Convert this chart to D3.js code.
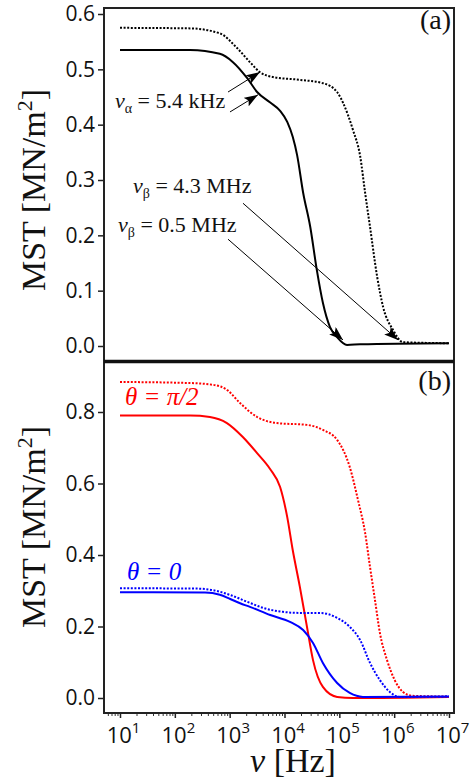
<!DOCTYPE html>
<html><head><meta charset="utf-8">
<script src="https://cdn.jsdelivr.net/npm/d3@7"></script>
<style>body{margin:0;background:#fff} .serif{font-family:"Liberation Serif","Times New Roman",Times,serif}</style>
</head><body><svg id="c" width="475" height="780"></svg>
<script>
// ---------- data ----------
const decades = [1, 2, 3, 4, 5, 6, 7];
const yTicksA = [0, 0.1, 0.2, 0.3, 0.4, 0.5, 0.6];
const yTicksB = [0, 0.2, 0.4, 0.6, 0.8];

// panel (a): log10(frequency / Hz) and MST [MN/m^2]
const aSolidLogF = [1.0, 2.28, 2.82, 3.06, 3.32, 3.50, 3.74, 3.92, 4.05, 4.15, 4.23, 4.34, 4.47, 4.59, 4.70, 4.83, 4.96, 5.14, 5.38, 7.0];
const aSolidMST  = [0.535, 0.535, 0.528, 0.513, 0.484, 0.459, 0.440, 0.425, 0.405, 0.378, 0.345, 0.277, 0.215, 0.137, 0.078, 0.034, 0.016, 0.002, 0.003, 0.005];
const aDotLogF   = [1.0, 2.28, 2.82, 3.13, 3.37, 3.55, 3.79, 4.28, 4.70, 4.96, 5.07, 5.25, 5.38, 5.47, 5.56, 5.69, 5.80, 5.98, 6.16, 7.0];
const aDotMST    = [0.575, 0.574, 0.565, 0.539, 0.513, 0.495, 0.486, 0.481, 0.475, 0.459, 0.439, 0.390, 0.343, 0.277, 0.215, 0.125, 0.070, 0.029, 0.007, 0.005];

// panel (b)
const redSolidLogF = [1.0, 2.28, 2.64, 2.95, 3.24, 3.50, 3.74, 3.92, 4.05, 4.15, 4.28, 4.41, 4.52, 4.70, 4.96, 5.25, 7.0];
const redSolidMST  = [0.790, 0.790, 0.786, 0.769, 0.730, 0.685, 0.640, 0.590, 0.506, 0.414, 0.311, 0.199, 0.106, 0.031, 0.003, 0.0, 0.003];
const redDotLogF   = [1.0, 2.28, 2.70, 2.95, 3.19, 3.50, 3.86, 4.41, 4.70, 4.96, 5.19, 5.34, 5.47, 5.56, 5.65, 5.74, 5.87, 6.01, 6.16, 6.34, 7.0];
const redDotMST    = [0.884, 0.881, 0.876, 0.862, 0.825, 0.786, 0.769, 0.764, 0.750, 0.722, 0.646, 0.554, 0.462, 0.366, 0.274, 0.182, 0.106, 0.050, 0.017, 0.006, 0.004];
const blueSolidLogF = [1.0, 2.55, 2.82, 3.01, 3.19, 3.37, 3.74, 4.10, 4.34, 4.52, 4.70, 4.96, 5.19, 5.43, 7.0];
const blueSolidMST  = [0.296, 0.295, 0.289, 0.277, 0.265, 0.255, 0.232, 0.213, 0.190, 0.154, 0.098, 0.042, 0.014, 0.003, 0.004];
const blueDotLogF   = [1.0, 2.40, 2.75, 3.01, 3.37, 3.61, 3.97, 4.28, 4.65, 4.96, 5.19, 5.38, 5.56, 5.74, 5.92, 6.10, 7.0];
const blueDotMST    = [0.307, 0.306, 0.300, 0.288, 0.266, 0.252, 0.241, 0.238, 0.238, 0.224, 0.199, 0.162, 0.098, 0.050, 0.017, 0.003, 0.004];

// annotations panel (a): [startLogF, startMST, tipLogF, tipMST]
const arrowsA = [
  [2.97, 0.459, 3.553, 0.495],
  [3.006, 0.423, 3.517, 0.454],
  [3.243, 0.258, 6.07, 0.011],
  [2.97, 0.193, 5.067, 0.011]
];
const labelsA = [
  {sym: "ν", sub: "α", rest: " = 5.4 kHz", lf: 0.909, v: 0.430},
  {sym: "ν", sub: "β", rest: " = 4.3 MHz", lf: 1.237, v: 0.2765},
  {sym: "ν", sub: "β", rest: " = 0.5 MHz", lf: 0.964, v: 0.206}
];
const labelsB = [
  {text: "θ = π/2", color: "#ff0000", lf: 1.091, v: 0.82},
  {text: "θ = 0", color: "#0000ff", lf: 1.128, v: 0.33}
];

// ---------- layout ----------
const L = 104, R = 454, TA = 8, MID = 361.5, BB = 713;
const svg = d3.select("#c");
const x = d3.scaleLog().domain([10, 1e7]).range([120, 449]);
const yA = d3.scaleLinear().domain([0, 0.6]).range([346, 14]);
const yB = d3.scaleLinear().domain([0, 0.8]).range([698, 412]);

const defs = svg.append("defs");
defs.append("marker").attr("id", "ah").attr("viewBox", "0 0 14 10")
  .attr("refX", 14).attr("refY", 5).attr("markerWidth", 14).attr("markerHeight", 10)
  .attr("markerUnits", "userSpaceOnUse").attr("orient", "auto")
  .append("path").attr("d", "M0,0 L14,5 L0,10 L3,5 Z").attr("fill", "#000");

function yAxis(scale, ticks) {
  const g = svg.append("g").attr("transform", `translate(${L},0)`)
    .call(d3.axisLeft(scale).tickValues(ticks).tickFormat(d3.format(".1f")).tickSize(6).tickPadding(3));
  g.select(".domain").remove();
  g.selectAll(".tick line").attr("stroke", "#222").attr("stroke-width", 1.5);
  g.selectAll(".tick text").attr("font-family", "'Open Sans', sans-serif").attr("font-size", 21).attr("fill", "#111");
}
yAxis(yA, yTicksA);
yAxis(yB, yTicksB);

// x axis (bottom)
const minor = [];
decades.forEach(d => { if (d < 7) for (let k = 2; k <= 9; k++) minor.push(k * Math.pow(10, d)); });
for (let k = 6; k <= 9; k++) minor.push(k);
const gxm = svg.append("g").attr("transform", `translate(0,${BB})`)
  .call(d3.axisBottom(x).tickValues(minor.filter(v => x(v) >= L)).tickSize(3).tickFormat(""));
gxm.select(".domain").remove();
gxm.selectAll(".tick line").attr("stroke", "#333").attr("stroke-width", 1);
const gx = svg.append("g").attr("transform", `translate(0,${BB})`)
  .call(d3.axisBottom(x).tickValues(decades.map(d => Math.pow(10, d))).tickSize(5).tickFormat(""));
gx.select(".domain").remove();
gx.selectAll(".tick line").attr("stroke", "#222").attr("stroke-width", 1.5);
gx.selectAll(".tick").each(function(d, i) {
  const t = d3.select(this).append("text").attr("y", 30).attr("x", 3).attr("text-anchor", "middle")
    .attr("font-family", "'Open Sans', sans-serif").attr("font-size", 22).attr("fill", "#111");
  t.append("tspan").text("10");
  t.append("tspan").attr("dy", -10).attr("font-size", 15).text(decades[i]);
});

// lines
const line = (sc) => d3.line().x(d => x(Math.pow(10, d[0]))).y(d => sc(d[1])).curve(d3.curveMonotoneX);
function series(lf, v, sc, color, dotted) {
  svg.append("path").datum(lf.map((f, i) => [f, v[i]]))
    .attr("d", line(sc)).attr("fill", "none").attr("stroke", color)
    .attr("stroke-width", 2).attr("stroke-dasharray", dotted ? "2,1.6" : null);
}
series(aDotLogF, aDotMST, yA, "#000", true);
series(aSolidLogF, aSolidMST, yA, "#000", false);
series(redDotLogF, redDotMST, yB, "#ff0000", true);
series(redSolidLogF, redSolidMST, yB, "#ff0000", false);
series(blueDotLogF, blueDotMST, yB, "#0000ff", true);
series(blueSolidLogF, blueSolidMST, yB, "#0000ff", false);

// arrows
arrowsA.forEach(a => {
  svg.append("line")
    .attr("x1", x(Math.pow(10, a[0]))).attr("y1", yA(a[1]))
    .attr("x2", x(Math.pow(10, a[2]))).attr("y2", yA(a[3]))
    .attr("stroke", "#000").attr("stroke-width", 1).attr("marker-end", "url(#ah)");
});
labelsA.forEach(l => {
  const t = svg.append("text").attr("class", "serif").attr("x", x(Math.pow(10, l.lf))).attr("y", yA(l.v))
    .attr("font-size", 22).attr("fill", "#111");
  t.append("tspan").attr("font-style", "italic").text(l.sym);
  t.append("tspan").attr("font-size", 14).attr("dy", 5).text(l.sub);
  t.append("tspan").attr("dy", -5).text(l.rest);
});
labelsB.forEach(l => {
  svg.append("text").attr("class", "serif").attr("x", x(Math.pow(10, l.lf))).attr("y", yB(l.v))
    .attr("font-style", "italic")
    .attr("font-size", 25).attr("fill", l.color).text(l.text);
});

// frames
svg.append("rect").attr("x", L).attr("y", TA).attr("width", R - L).attr("height", BB - TA)
  .attr("fill", "none").attr("stroke", "#222").attr("stroke-width", 2);
svg.append("line").attr("x1", L).attr("x2", R).attr("y1", MID).attr("y2", MID)
  .attr("stroke", "#111").attr("stroke-width", 3.5);

// panel tags
[["(a)", 29], ["(b)", 390]].forEach(p => {
  svg.append("text").attr("class", "serif").attr("x", 451).attr("y", p[1]).attr("text-anchor", "end")
    .attr("font-size", 28).attr("fill", "#111").text(p[0]);
});

// axis titles
function yTitle(cy) {
  const t = svg.append("text").attr("class", "serif").attr("transform", `translate(45,${cy}) rotate(-90)`).attr("text-anchor", "middle")
    .attr("font-size", 34).attr("fill", "#111");
  t.append("tspan").text("MST [MN/m");
  t.append("tspan").attr("dy", -13).attr("font-size", 22).text("2");
  t.append("tspan").attr("dy", 13).text("]");
}
yTitle(190);
yTitle(527);
const xt = svg.append("text").attr("class", "serif").attr("x", 293).attr("y", 772).attr("text-anchor", "middle")
  .attr("font-size", 34).attr("fill", "#111");
xt.append("tspan").attr("font-style", "italic").text("ν");
xt.append("tspan").text(" [Hz]");
</script></body></html>
